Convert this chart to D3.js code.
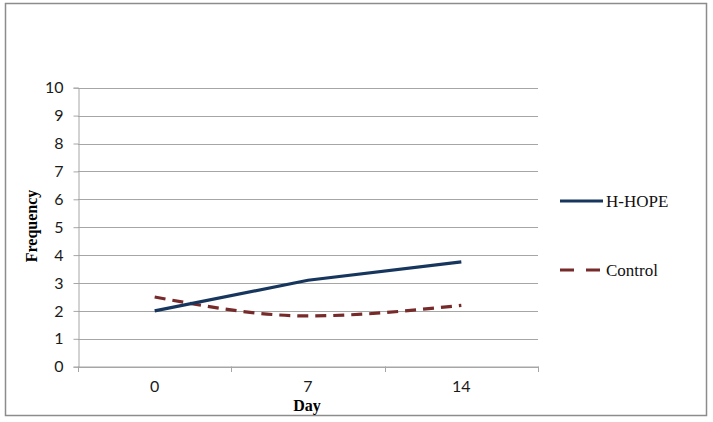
<!DOCTYPE html>
<html><head><meta charset="utf-8">
<script src="https://cdn.jsdelivr.net/npm/d3@7"></script>
<style>body{margin:0;background:#fff}</style>
</head><body>
<script>
const categories = ["0", "7", "14"];
const hhope = [2.0, 3.1, 3.76];
const control = [2.5, 1.82, 2.2];
const yTicks = [0,1,2,3,4,5,6,7,8,9,10];
const seriesNames = ["H-HOPE", "Control"];

const W = 713, H = 422;
const svg = d3.select("body").append("svg").attr("width", W).attr("height", H);
svg.append("rect").attr("x", 5.5).attr("y", 3.5).attr("width", 701).attr("height", 412)
  .attr("fill", "#fff").attr("stroke", "#8c8c8c").attr("stroke-width", 1.5);

const x = d3.scaleBand().domain(categories).range([78, 538]);
const y = d3.scaleLinear().domain([0, 10]).range([366.7, 87.7]);

const g = svg.append("g");
g.selectAll(".grid").data(yTicks).enter().append("line")
  .attr("x1", 78).attr("x2", 538)
  .attr("y1", d => Math.round(y(d)) + 0.5).attr("y2", d => Math.round(y(d)) + 0.5)
  .attr("stroke", "#a6a6a6").attr("stroke-width", 1);

const ya = g.append("g").attr("transform", "translate(78.5,0)")
  .call(d3.axisLeft(y).tickValues(yTicks).tickSize(5).tickPadding(10));
ya.select(".domain").attr("stroke", "#a6a6a6");
ya.selectAll(".tick line").attr("stroke", "#a6a6a6");
ya.selectAll(".tick text").attr("font-family", "Lato, 'Open Sans', sans-serif").attr("font-size", 16).attr("fill", "#1a1a1a");

const xa = g.append("g").attr("transform", "translate(0,366.5)")
  .call(d3.axisBottom(x).tickSize(0).tickPadding(14));
xa.select(".domain").attr("stroke", "#a6a6a6");
xa.selectAll(".tick text").attr("font-family", "Lato, 'Open Sans', sans-serif").attr("font-size", 16).attr("fill", "#1a1a1a");
const bounds = categories.map(c => x(c)).concat([x(categories[categories.length-1]) + x.bandwidth()]);
g.selectAll(".bt").data(bounds).enter().append("line")
  .attr("x1", d => Math.round(d) + 0.5).attr("x2", d => Math.round(d) + 0.5)
  .attr("y1", 366.5).attr("y2", 372).attr("stroke", "#a6a6a6");

const cx = c => x(c) + x.bandwidth() / 2;
const line = d3.line().x((d, i) => cx(categories[i])).y(d => y(d));
const lineSmooth = d3.line().x((d, i) => cx(categories[i])).y(d => y(d)).curve(d3.curveMonotoneX);

g.append("path").datum(control).attr("d", lineSmooth).attr("fill", "none")
  .attr("stroke", "#772a2a").attr("stroke-width", 3.2).attr("stroke-dasharray", "11,7");
g.append("path").datum(hhope).attr("d", line).attr("fill", "none")
  .attr("stroke", "#17365d").attr("stroke-width", 3.2);

svg.append("text").attr("x", 307).attr("y", 411).attr("text-anchor", "middle")
  .attr("font-family", "'Liberation Serif', serif").attr("font-weight", "bold").attr("font-size", 16).text("Day");
svg.append("text").attr("transform", "translate(37,226) rotate(-90)").attr("text-anchor", "middle")
  .attr("font-family", "'Liberation Serif', serif").attr("font-weight", "bold").attr("font-size", 16).text("Frequency");

const leg = svg.append("g");
leg.append("line").attr("x1", 560).attr("x2", 603).attr("y1", 201).attr("y2", 201)
  .attr("stroke", "#17365d").attr("stroke-width", 3.2);
leg.append("text").attr("x", 606).attr("y", 207).attr("font-family", "'Liberation Serif', serif")
  .attr("font-size", 17).attr("fill", "#111").text(seriesNames[0]);
leg.append("line").attr("x1", 560).attr("x2", 600).attr("y1", 270).attr("y2", 270)
  .attr("stroke", "#772a2a").attr("stroke-width", 3.2).attr("stroke-dasharray", "14,12");
leg.append("text").attr("x", 606).attr("y", 276).attr("font-family", "'Liberation Serif', serif")
  .attr("font-size", 17).attr("fill", "#111").text(seriesNames[1]);
</script>
</body></html>
